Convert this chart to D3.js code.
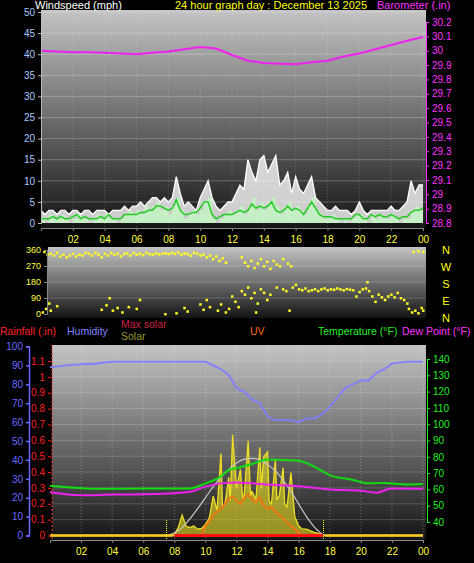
<!DOCTYPE html>
<html><head><meta charset="utf-8">
<script src="https://cdn.jsdelivr.net/npm/d3@7"></script>
<style>body{margin:0;background:#000}svg{display:block;font-family:"Liberation Sans",Arial,sans-serif}</style>
</head><body><svg id="c" width="474" height="563"></svg>
<script>
// ---- data ----
var hours = d3.range(0, 24.01, 1);
var baro = [30.00,29.995,29.99,29.99,29.985,29.98,29.975,29.985,29.995,30.01,30.025,30.015,29.97,29.93,29.915,29.91,29.905,29.92,29.93,29.96,29.98,30.01,30.04,30.07,30.095];
var q = d3.range(0, 24.01, 0.25);
var gust = [3,2,3,3, 2,3,3,2, 3,3,2,3, 3,2,3,3, 3,2,3,3, 3,4,3,4, 4,5,4,5, 6,6,5,6, 5,6,11,7, 4,5,4,3,
            6,8,10,6, 4,3,4,5, 5,7,9,8, 15,12,10,15, 16,12,14,16, 9,10,12,7, 11,8,7,9, 11,6,5,4, 3,3,4,3,
            3,3,2,3, 5,3,2,3, 3,3,3,3, 4,3,3,4, 5,10,7,9, 9];
var avgWind = [1,1,1,1.5, 1,1.5,1,1, 1.5,2,1,1.5, 1,1,1,1.5, 1,2,1,1, 1,2,2,2, 2,2.5,2.5,3, 3,4,4,3.5, 3,3.5,5.5,3,
            2,2,2.5,2.5, 3.5,5,5,2, 1,1.5,2,2, 2,2.5,3,2.5, 3,4.5,3.5,4, 3.5,4,5,3, 2.5,3,4,3, 3.5,3,2,3.5,
            5,3.5,2,1.5, 1.5,1.5,1,1, 1,1,1,2, 2,1,1,2, 1.5,2,1.5,1.5, 2,1.5,1,1.5, 1.5,2.5,3,3, 3.5];
var speed = [1,0,2,1, 1,2,1,0, 1,2,1,1, 0,1,2,1, 2,1,1,0, 1,2,3,2, 3,2,4,3, 4,5,3,4, 2,4,6,3,
            1,2,3,2, 3,5,6,1, 0,1,2,3, 2,3,4,2, 4,6,3,5, 3,5,6,4, 2,4,5,3, 4,3,2,4, 6,3,2,1, 1,2,1,0,
            1,0,1,2, 2,1,0,2, 1,2,1,1, 2,1,0,1, 1,3,4,3, 4];
var windDir = [[0.2,350],[0.4,335],[0.6,340],[0.8,330],[1,345],[1.2,325],[1.4,335],[1.6,320],[1.8,330],[2,340],[2.2,325],[2.4,335],[2.6,330],[2.8,345],[3,340],[3.2,330],[3.4,345],[3.6,335],[3.8,320],[4,340],[4.2,330],[4.4,345],[4.6,335],[4.8,340],[5,325],[5.2,338],[5.4,342],[5.6,330],[5.8,345],[6,335],[6.2,340],[6.4,332],[6.6,345],[6.8,338],[7,335],[7.2,342],[7.4,337],[7.6,340],[7.8,343],[8,338],[8.2,345],[8.4,340],[8.6,347],[8.8,335],[9,342],[9.2,338],[9.4,330],[9.6,345],[9.8,340],[10,330],[10.2,335],[10.4,320],[10.6,330],[10.8,310],[11,325],[11.2,300],[11.4,315],[11.6,290],
  [0.1,10],[0.3,30],[0.5,60],[0.6,20],[1,45],[3.8,25],[4.1,50],[4.3,90],[4.5,20],[4.8,35],[5.1,10],[5.5,40],[6,30],[6.2,80],[7.8,0],[8.5,5],[9,35],[9.2,15],[10,55],[10.2,25],[10.4,80],[10.6,40],[11.1,20],[11.3,55],[11.6,10],[11.8,30],
  [12,100],[12.2,70],[12.4,40],[12.6,130],[12.8,110],[13,150],[13.2,90],[13.4,120],[13.6,60],[13.8,140],[14,120],[14.4,110],[14.8,150],[15.2,140],[15.4,130],[12.6,320],[12.8,290],[13,270],[13.2,300],[13.4,260],[13.6,285],[13.8,310],[14,270],[14.2,295],[14.4,255],[14.6,300],[14.8,280],[15,270],[15.2,310],[15.5,285],[15.7,270],[14.2,80],[15.6,20],[13.5,10],
  [15.8,150],[16,165],[16.2,140],[16.4,135],[16.6,145],[16.8,130],[17,135],[17.2,140],[17.4,130],[17.6,140],[17.8,145],[18,135],[18.2,140],[18.4,138],[18.6,145],[18.8,140],[19,135],[19.2,142],[19.4,138],[19.6,135],[19.8,100],[20,125],[20.2,140],[20.4,145],[20.6,130],[20.8,100],
  [21,70],[21.2,110],[21.4,95],[21.6,80],[21.8,100],[22,110],[22.2,95],[22.4,120],[22.6,90],[22.8,80],[23,60],
  [23.1,30],[23.3,10],[23.5,20],[23.7,5],[23.9,35],[24,20],[23.4,350],[23.7,355],[24,350],[20.5,180]];
var humHours = [0,1,2,3,4,10,10.5,11,11.5,12,12.5,13,13.5,14,14.5,15,15.5,16,16.5,17,17.5,18,18.5,19,19.5,20,20.5,21,21.5,22,23,24];
var humidity = [89,90,90.5,91,92,92,90,88,85,78,76,72,70,63,61,61,61,60,62,62,64,68,73,78,80,82,82,86,88,91,92,92];
var tHours = [0,1,3,6,9,10,11,11.5,12,13,14,15,16,17,18,19.5,20.5,21.5,23,24];
var temp = [62.3,61.5,60.4,60.5,60.6,63.7,68,71.9,73,75.6,78.4,78,77.6,74,68.8,65.8,63.7,64,63,63.3];
var dHours = [0,2,4,6,9,10,11,12,13,14,16,18,20,21,22,24];
var dew = [58.2,56.4,56.8,57,58.6,61.7,63.7,64.3,63.7,63,62,60,59.2,58,60.6,60.4];
var maxSolarH = [7.5,8,8.5,9,9.5,10,10.5,11,11.5,12,12.5,13,13.5,14,14.5,15,15.5,16,16.5,17,17.5,17.7];
var maxSolar = [0,15,50,105,170,240,310,370,420,460,485,490,480,450,410,350,280,200,120,55,10,0];
var solarH = [0,7.9,8,8.25,8.5,8.75,9,9.25,9.5,9.75,10,10.25,10.5,10.75,11,11.1,11.25,11.5,11.6,11.75,12,12.25,12.4,12.5,12.75,12.9,13,13.25,13.5,13.6,13.75,14,14.1,14.25,14.5,14.6,14.75,15,15.1,15.25,15.5,15.75,16,16.25,16.5,16.75,17,17.5,17.75,24];
var solar = [0,0,5,50,130,60,50,60,40,45,70,110,250,160,520,180,200,370,220,640,300,420,230,260,600,250,280,230,560,300,500,530,220,200,480,230,250,430,200,180,400,120,60,40,40,30,20,5,0,0];
var uvH = [9.75,10,10.25,10.5,10.75,11,11.25,11.5,11.75,12,12.25,12.5,12.75,13,13.25,13.5,13.75,14,14.25,14.5,14.75,15,15.25,15.5,15.75,16,16.25];
var uv = [0,60,90,130,150,170,200,230,250,220,200,240,260,230,210,240,190,170,180,150,130,110,80,60,40,20,0];
var hourTicks = d3.range(2, 25, 2);
var sunTimes = [7.5, 17.6];

var svg = d3.select("#c");
var defs = svg.append("defs");
var g = defs.append("linearGradient").attr("id","bg").attr("x1",0).attr("x2",0).attr("y1",0).attr("y2",1);
g.append("stop").attr("offset","0%").attr("stop-color","#c4c4c4");
g.append("stop").attr("offset","100%").attr("stop-color","#141414");

function fmtH(h){ return d3.format("02")(h % 24); }
function panel(x0,x1,y0,y1){
  svg.append("rect").attr("x",x0).attr("y",y0).attr("width",x1-x0).attr("height",y1-y0).attr("fill","url(#bg)");
}

// ===== top panel =====
var xT = d3.scaleLinear().domain([0,24]).range([41,423]);
var yW = d3.scaleLinear().domain([0,50]).range([223,12]);
var yB = d3.scaleLinear().domain([28.8,30.2]).range([223,22]);
panel(41,426,10,228);
svg.append("g").selectAll("line").data(d3.range(5,51,5)).enter().append("line")
  .attr("x1",41).attr("x2",426).attr("y1",yW).attr("y2",yW).attr("stroke","rgba(255,255,255,0.25)");
svg.append("g").selectAll("line").data(hourTicks).enter().append("line")
  .attr("x1",xT).attr("x2",xT).attr("y1",10).attr("y2",228).attr("stroke","rgba(255,255,255,0.2)").attr("stroke-dasharray","1,2");
svg.append("path").datum(gust).attr("fill","rgba(255,255,255,0.78)")
  .attr("d",d3.area().x(function(d,i){return xT(q[i]);}).y0(yW(0)).y1(function(d){return yW(d);}));
svg.append("path").datum(speed).attr("fill","#c6efc6")
  .attr("d",d3.area().x(function(d,i){return xT(q[i]);}).y0(yW(0)).y1(function(d){return yW(d);}).curve(d3.curveStepAfter));
svg.append("path").datum(gust).attr("fill","none").attr("stroke","#fff").attr("stroke-width",1.3)
  .attr("d",d3.line().x(function(d,i){return xT(q[i]);}).y(function(d){return yW(d);}));
svg.append("path").datum(avgWind).attr("fill","none").attr("stroke","#22cc22").attr("stroke-width",1.5)
  .attr("d",d3.line().x(function(d,i){return xT(q[i]);}).y(function(d){return yW(d);}));
svg.append("path").datum(baro).attr("fill","none").attr("stroke","#ee22ee").attr("stroke-width",2)
  .attr("d",d3.line().x(function(d,i){return xT(hours[i]);}).y(function(d){return yB(d);}));

var aw = svg.append("g").attr("transform","translate(41,0)").call(d3.axisLeft(yW).tickValues(d3.range(0,51,5)).tickSize(3));
aw.selectAll("text").attr("fill","#a8c8ff").attr("font-size",10);
aw.selectAll("line,path").attr("stroke","#bbb");
var ab = svg.append("g").attr("transform","translate(426,0)").call(d3.axisRight(yB).tickValues(d3.range(28.8,30.21,0.1)).tickFormat(d3.format("~g")).tickSize(3));
ab.selectAll("text").attr("fill","#ff33ff").attr("font-size",10);
ab.selectAll("line,path").attr("stroke","#ff33ff");
var axT = svg.append("g").attr("transform","translate(0,228)").call(d3.axisBottom(xT).tickValues(hourTicks).tickFormat(fmtH).tickSize(3));
axT.selectAll("text").attr("fill","#ffff44").attr("font-size",10).attr("dy","0.9em");
axT.selectAll("line,path").attr("stroke","#888");

svg.append("text").attr("x",35).attr("y",9).attr("fill","#fff").attr("font-size",11).text("Windspeed (mph)");
svg.append("text").attr("x",175).attr("y",9).attr("fill","#ffff00").attr("font-size",11).text("24 hour graph day : December 13 2025");
svg.append("text").attr("x",377).attr("y",9).attr("fill","#ff33ff").attr("font-size",11).text("Barometer (.in)");

// ===== wind direction panel =====
var yD = d3.scaleLinear().domain([0,360]).range([314,250]);
panel(48,426,247,318);
svg.append("g").selectAll("line").data([90,180,270]).enter().append("line")
  .attr("x1",48).attr("x2",426).attr("y1",yD).attr("y2",yD).attr("stroke","rgba(255,255,255,0.2)");
svg.append("g").selectAll("rect").data(windDir).enter().append("rect")
  .attr("x",function(d){return xT(d[0])-1;}).attr("y",function(d){return yD(d[1])-1;})
  .attr("width",2.5).attr("height",2.5).attr("fill","#ffff22");
var ad = svg.append("g").attr("transform","translate(47,0)").call(d3.axisLeft(yD).tickValues([0,90,180,270,360]).tickSize(3));
ad.selectAll("text").attr("fill","#ffff44").attr("font-size",9);
ad.selectAll("line,path").attr("stroke","#888");
svg.append("g").selectAll("text").data(["N","W","S","E","N"]).enter().append("text")
  .attr("x",446).attr("y",function(d,i){return 254+i*17;}).attr("text-anchor","middle")
  .attr("fill","#ffff00").attr("font-size",11).text(function(d){return d;});

// legends
var leg = [["Rainfall (.in)",0,335,"#ff2222"],["Humidity",67,335,"#8080ff"],["Max solar",121,328,"#cc2244"],["Solar",121,340,"#999933"],["UV",250,335,"#ff6600"],["Temperature (°F)",318,335,"#22ee22"],["Dew Point (°F)",402,335,"#ff33ff"]];
svg.append("g").selectAll("text").data(leg).enter().append("text")
  .attr("x",function(d){return d[1];}).attr("y",function(d){return d[2];}).attr("fill",function(d){return d[3];})
  .attr("font-size",10.5).text(function(d){return d[0];});

// ===== bottom panel =====
var xB = d3.scaleLinear().domain([0,24]).range([50,423]);
var yH = d3.scaleLinear().domain([0,100]).range([535.5,346.5]);
var yR = d3.scaleLinear().domain([0,1.1]).range([535.5,361]);
var yTp = d3.scaleLinear().domain([40,140]).range([522,359]);
var yS = d3.scaleLinear().domain([0,1200]).range([535.5,346.5]);
panel(52,426,345,540);
svg.append("g").selectAll("line").data(d3.range(0.1,1.11,0.1)).enter().append("line")
  .attr("x1",52).attr("x2",426).attr("y1",yR).attr("y2",yR).attr("stroke","rgba(255,255,255,0.18)");
svg.append("g").selectAll("line").data(hourTicks).enter().append("line")
  .attr("x1",xB).attr("x2",xB).attr("y1",345).attr("y2",540).attr("stroke","rgba(255,255,255,0.3)").attr("stroke-dasharray","1,2");
svg.append("line").attr("x1",52).attr("x2",52).attr("y1",345).attr("y2",540).attr("stroke","#ff3333").attr("stroke-dasharray","2,2");

svg.append("path").datum(solar).attr("fill","rgba(235,225,40,0.6)").attr("stroke","#eedd22").attr("stroke-width",1.3)
  .attr("d",d3.area().x(function(d,i){return xB(solarH[i]);}).y0(yS(0)).y1(function(d){return yS(d);}));
svg.append("path").datum(maxSolar).attr("fill","none").attr("stroke","#c8c8c8").attr("stroke-width",1.2)
  .attr("d",d3.line().x(function(d,i){return xB(maxSolarH[i]);}).y(function(d){return yS(d);}).curve(d3.curveMonotoneX));
svg.append("path").datum(uv).attr("fill","none").attr("stroke","#ee7711").attr("stroke-width",2)
  .attr("d",d3.line().x(function(d,i){return xB(uvH[i]);}).y(function(d){return yS(d);}));
svg.append("line").attr("x1",xB(8)).attr("x2",xB(17.6)).attr("y1",yR(0)).attr("y2",yR(0)).attr("stroke","#ff1111").attr("stroke-width",3);
svg.append("line").attr("x1",xB(0)).attr("x2",xB(7.9)).attr("y1",yR(0)).attr("y2",yR(0)).attr("stroke","#ffcc22").attr("stroke-width",2.5);
svg.append("line").attr("x1",xB(17.7)).attr("x2",xB(24)).attr("y1",yR(0)).attr("y2",yR(0)).attr("stroke","#ffcc22").attr("stroke-width",2.5);
svg.append("g").selectAll("line").data(sunTimes).enter().append("line")
  .attr("x1",xB).attr("x2",xB).attr("y1",520).attr("y2",539).attr("stroke","#ffff22").attr("stroke-dasharray","1,1");
svg.append("path").datum(humidity).attr("fill","none").attr("stroke","#7f7fff").attr("stroke-width",1.8)
  .attr("d",d3.line().x(function(d,i){return xB(humHours[i]);}).y(function(d){return yH(d);}));
svg.append("path").datum(temp).attr("fill","none").attr("stroke","#11dd11").attr("stroke-width",2)
  .attr("d",d3.line().x(function(d,i){return xB(tHours[i]);}).y(function(d){return yTp(d);}).curve(d3.curveMonotoneX));
svg.append("path").datum(dew).attr("fill","none").attr("stroke","#ee22ee").attr("stroke-width",2)
  .attr("d",d3.line().x(function(d,i){return xB(dHours[i]);}).y(function(d){return yTp(d);}).curve(d3.curveMonotoneX));

var ah = svg.append("g").attr("transform","translate(29,0)").call(d3.axisLeft(yH).tickValues(d3.range(0,101,10)).tickSize(3));
ah.selectAll("text").attr("fill","#6a6aff").attr("font-size",10);
ah.selectAll("line,path").attr("stroke","#6a6aff").attr("stroke-width",1.5);
var ar = svg.append("g").attr("transform","translate(51,0)").call(d3.axisLeft(yR).tickValues(d3.range(0,1.11,0.1)).tickFormat(d3.format("~g")).tickSize(3));
ar.selectAll("text").attr("fill","#ff2222").attr("font-size",10);
ar.selectAll("path").attr("stroke","none");
ar.selectAll("line").attr("stroke","#ff2222");
var at = svg.append("g").attr("transform","translate(427,0)").call(d3.axisRight(yTp).tickValues(d3.range(40,141,10)).tickSize(3));
at.selectAll("text").attr("fill","#22ee22").attr("font-size",10);
at.selectAll("line,path").attr("stroke","#22ee22");
var axB = svg.append("g").attr("transform","translate(0,540)").call(d3.axisBottom(xB).tickValues(hourTicks).tickFormat(fmtH).tickSize(3));
axB.selectAll("text").attr("fill","#ffff44").attr("font-size",10).attr("dy","0.9em");
axB.selectAll("line,path").attr("stroke","#888");
</script></body></html>
